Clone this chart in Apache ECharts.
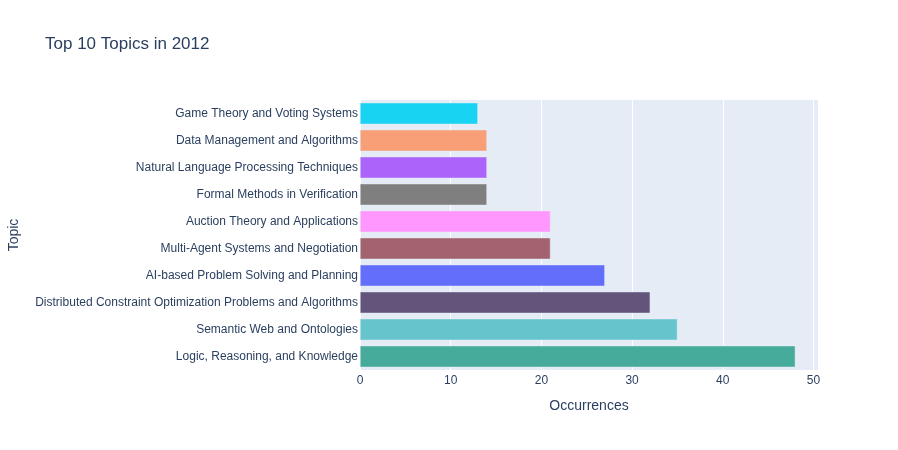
<!DOCTYPE html>
<html>
<head>
<meta charset="utf-8">
<script src="https://cdn.jsdelivr.net/npm/echarts@6/dist/echarts.min.js"></script>
<style>
html,body{margin:0;padding:0;background:#fff;}
#chart{width:898px;height:450px;}
</style>
</head>
<body>
<div id="chart"></div>
<script>
const categories = [
  "Game Theory and Voting Systems",
  "Data Management and Algorithms",
  "Natural Language Processing Techniques",
  "Formal Methods in Verification",
  "Auction Theory and Applications",
  "Multi-Agent Systems and Negotiation",
  "AI-based Problem Solving and Planning",
  "Distributed Constraint Optimization Problems and Algorithms",
  "Semantic Web and Ontologies",
  "Logic, Reasoning, and Knowledge"
];
const occurrences = [13, 14, 14, 14, 21, 21, 27, 32, 35, 48];
const barColors = ["#19D3F3", "#F89F77", "#AB63FA", "#7F7F7F", "#FF97FF", "#A2636F", "#636EFA", "#62547A", "#66C5CC", "#46AB9A"];
const xTicks = [0, 10, 20, 30, 40, 50];

const FONT = "'Liberation Sans', Arial, sans-serif";
const TXT = "#2a3f5f";

const chart = echarts.init(document.getElementById('chart'), null, {renderer: 'canvas'});
chart.setOption({
  animation: false,
  backgroundColor: '#ffffff',
  textStyle: {fontFamily: FONT, color: TXT},
  title: {
    text: 'Top 10 Topics in 2012',
    left: 40, top: 31,
    textStyle: {fontFamily: FONT, fontSize: 17, fontWeight: 'normal', color: TXT}
  },
  grid: {
    left: 360, top: 100, width: 458, height: 270,
    show: true, backgroundColor: '#E5ECF6', borderWidth: 0,
    containLabel: false, outerBoundsMode: 'none'
  },
  xAxis: {
    type: 'value', min: 0, max: 50.5, interval: 10,
    name: 'Occurrences', nameLocation: 'middle', nameGap: 29,
    nameTextStyle: {fontFamily: FONT, fontSize: 14, color: TXT},
    axisLine: {show: false}, axisTick: {show: false},
    axisLabel: {
      fontFamily: FONT, fontSize: 12, color: TXT, margin: 5,
      formatter: function (v) { return xTicks.indexOf(v) >= 0 ? String(v) : ''; }
    },
    splitLine: {show: true, lineStyle: {color: '#ffffff', width: 1}}
  },
  yAxis: {
    type: 'category', data: categories, inverse: true,
    name: 'Topic', nameLocation: 'middle', nameGap: 339, nameRotate: 90,
    nameTextStyle: {fontFamily: FONT, fontSize: 14, color: TXT},
    axisLine: {show: false}, axisTick: {show: false},
    axisLabel: {fontFamily: FONT, fontSize: 12, color: TXT, margin: 2, padding: [2, 0, 0, 0]},
    splitLine: {show: false}
  },
  series: [{
    type: 'bar',
    data: occurrences.map((v, i) => ({value: v, itemStyle: {color: barColors[i]}})),
    barCategoryGap: '20%',
    itemStyle: {borderColor: '#E5ECF6', borderWidth: 0.5}
  }]
});
</script>
</body>
</html>
